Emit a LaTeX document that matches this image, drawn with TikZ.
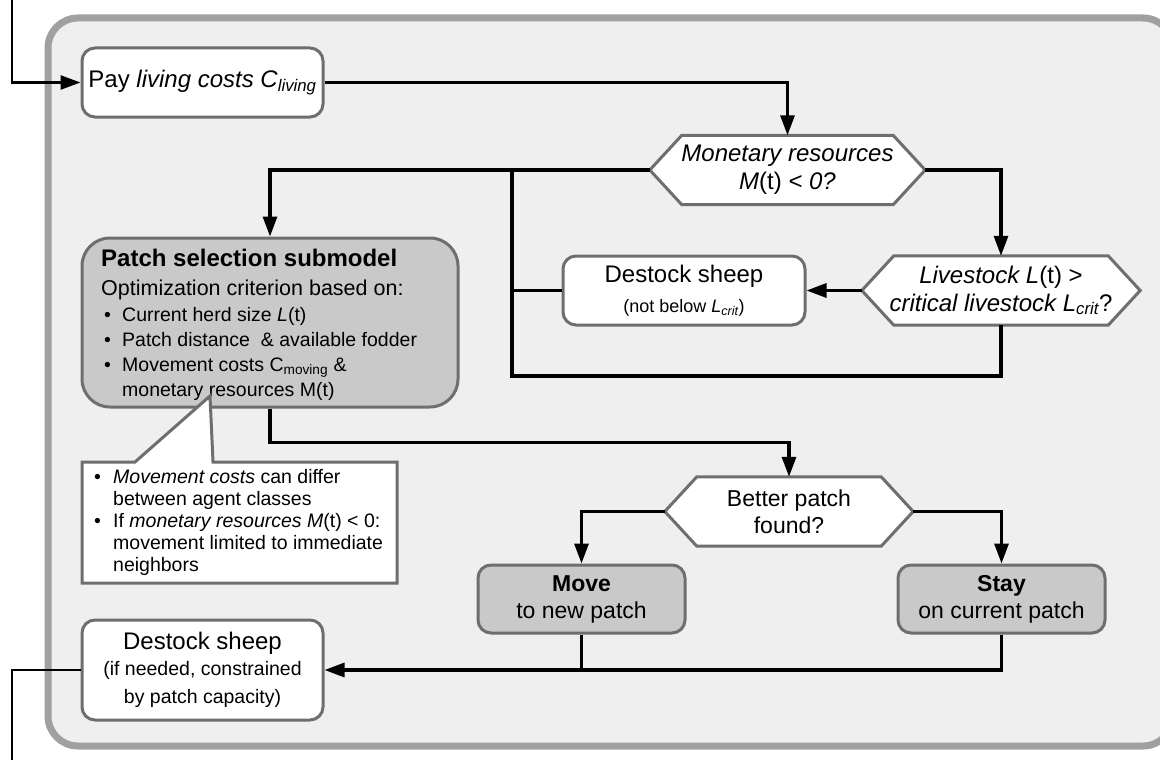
\documentclass[tikz,border=0pt]{standalone}
\usepackage{fontspec}
\setmainfont{Liberation Sans}
\usetikzlibrary{arrows.meta}

\definecolor{framegray}{HTML}{A0A0A0}
\definecolor{framefill}{HTML}{EFEFEF}
\definecolor{boxgray}{HTML}{6E6E6E}
\definecolor{subfill}{HTML}{C9C9C9}

\pgfdeclarelayer{back}
\pgfsetlayers{back,main}

\newcommand\bigtxt{\fontsize{24}{28}\selectfont}
\newcommand\smalltxt{\fontsize{19.5}{22}\selectfont}

\tikzset{
  conn/.style={line width=3.2pt, draw=black, line join=miter},
  arr/.style={conn, -{Triangle[length=20pt,width=14pt]}},
  box/.style={draw=boxgray, line width=3pt, fill=white, rounded corners=13pt,
              inner sep=0pt, align=center, font=\bigtxt},
  subbox/.style={box, fill=subfill},
  hexbase/.style={inner sep=0pt, align=center, font=\bigtxt},
  hexline/.style={draw=boxgray, line width=3pt, fill=white, line join=miter},
  linetxt/.style={anchor=base west, inner sep=0pt, font=\smalltxt},
}

\begin{document}
\begin{tikzpicture}[x=1pt,y=-1pt]
\useasboundingbox (0,0) rectangle (1160,760);
\clip (0,0) rectangle (1160,760);

% outer frame of the step
\begin{pgfonlayer}{back}
  \draw[line width=7pt, draw=framegray, fill=framefill, rounded corners=30pt]
    (48,18) rectangle (1173,746);
\end{pgfonlayer}

% process boxes
\node[box, minimum width=241pt, minimum height=69pt] (pay) at (202.5,82.5)
  {Pay \textit{living costs C\textsubscript{living}}};

\node[box, minimum width=242pt, minimum height=69pt] (des1) at (684,290.5)
  {Destock sheep\\[2pt]{\fontsize{18}{20}\selectfont (not below \textit{L\textsubscript{crit}})}};

\node[subbox, rounded corners=28pt, minimum width=376pt, minimum height=169pt] (patch) at (270,322.5) {};
\node[linetxt, font=\fontsize{24}{27}\selectfont\bfseries] (pt0) at (101,266) {Patch selection submodel};
\node[linetxt, font=\fontsize{21.5}{24}\selectfont] (pt1) at (101,295) {Optimization criterion based on:};
\node[linetxt] (pt2) at (104,321) {\makebox[18pt][l]{\textbullet}Current herd size \textit{L}(t)};
\node[linetxt] (pt3) at (104,346) {\makebox[18pt][l]{\textbullet}Patch distance \ \& available fodder};
\node[linetxt] (pt4) at (104,371) {\makebox[18pt][l]{\textbullet}Movement costs C\textsubscript{moving} \&};
\node[linetxt] (pt5) at (122,396) {monetary resources M(t)};

% remark attached to the patch selection submodel
\draw[draw=boxgray, line width=3pt, fill=white, line join=miter]
  (82,462) -- (135,462) -- (210,396) -- (213,462) -- (397,462) -- (397,583) -- (82,583) -- cycle;
\node[linetxt] (n1) at (94,483) {\makebox[19pt][l]{\textbullet}\textit{Movement costs} can differ};
\node[linetxt] (n2) at (113,505) {between agent classes};
\node[linetxt] (n3) at (94,527) {\makebox[19pt][l]{\textbullet}If \textit{monetary resources M}(t) < 0:};
\node[linetxt] (n4) at (113,549) {movement limited to immediate};
\node[linetxt] (n5) at (113,571) {neighbors};

\node[subbox, minimum width=207pt, minimum height=68pt, font=\fontsize{23}{27}\selectfont] (move) at (581.5,599)
  {\textbf{Move}\\to new patch};
\node[subbox, minimum width=207pt, minimum height=68pt, font=\fontsize{23}{27}\selectfont] (stay) at (1001.5,599)
  {\textbf{Stay}\\on current patch};

\node[box, minimum width=241pt, minimum height=100pt] (des2) at (202.5,670)
  {Destock sheep\\[-2pt]\smalltxt (if needed, constrained\\\smalltxt by patch capacity)};

% decisions
\node[hexbase, minimum width=275pt, minimum height=69pt] (mon) at (787.5,170)
  {\textit{Monetary resources}\\\textit{M}(t) \textit{< 0?}};
\node[hexbase, minimum width=278pt, minimum height=69pt] (liv) at (1001,290.5)
  {\textit{Livestock L}(t) >\\\textit{critical livestock L\textsubscript{crit}}?};
\node[hexbase, minimum width=248pt, minimum height=69pt, font=\fontsize{23}{27}\selectfont] (better) at (789,511.5)
  {Better patch\\found?};

\begin{pgfonlayer}{back}
  \foreach \h/\d in {mon/32, liv/32, better/32} {
    \draw[hexline] (\h.west) -- ([xshift=\d pt]\h.north west) -- ([xshift=-\d pt]\h.north east)
      -- (\h.east) -- ([xshift=-\d pt]\h.south east) -- ([xshift=\d pt]\h.south west) -- cycle;
  }
\end{pgfonlayer}

% connectors
\coordinate (in) at (12,0);
\coordinate (out) at (12,760);
\coordinate (jt) at (512,170);
\coordinate (jb) at (512,376);

\draw[arr, line width=2.6pt] (in) |- (pay.west);
\draw[arr] (pay.east) -| (mon.north);
\draw[arr] (mon.west) -| (patch.north);
\draw[arr] (mon.east) -| (liv.north);
\draw[arr] (liv.west) -- (des1.east);
\draw[conn] (des1.west) -- (des1.west -| jt);
\draw[conn] (liv.south) |- (jb) -- (jt);
\draw[arr] (patch.south) -- ++(0,34) -| (better.north);
\draw[arr] (better.west) -| (move.north);
\draw[arr] (better.east) -| (stay.north);
\draw[arr] (stay.south) |- (des2.east);
\draw[conn] (move.south) -- (move.south |- des2.east);
\draw[conn, line width=2pt] (des2.west) -| (out);
\end{tikzpicture}
\end{document}
